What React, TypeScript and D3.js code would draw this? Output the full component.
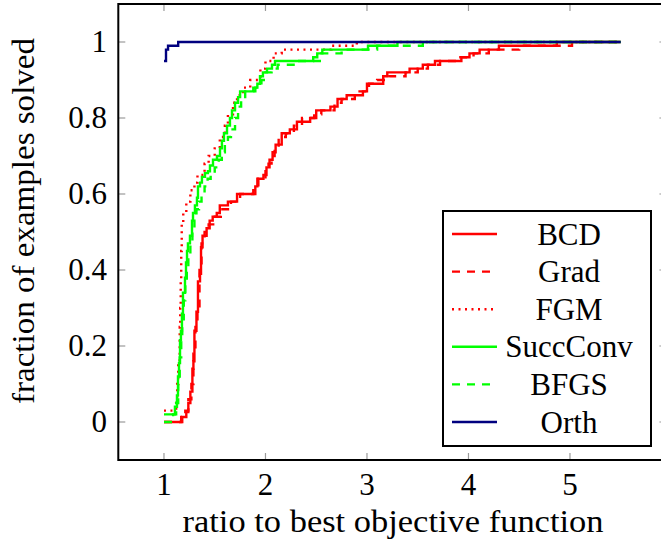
import React from 'react';
import * as d3 from 'd3';

// step-after breakpoints: [ratio, fraction solved]
const bcd: [number, number][] = [
  [1, 0], [1.18, 0.013], [1.22, 0.026], [1.24, 0.05], [1.26, 0.08], [1.28, 0.14], [1.29, 0.16],
  [1.3, 0.24], [1.32, 0.29], [1.335, 0.37], [1.355, 0.39], [1.365, 0.46], [1.38, 0.49],
  [1.42, 0.51], [1.45, 0.53], [1.48, 0.54], [1.52, 0.55], [1.55, 0.57], [1.63, 0.58],
  [1.72, 0.6], [1.9, 0.62], [1.92, 0.64], [1.98, 0.65], [2.01, 0.67], [2.04, 0.69],
  [2.07, 0.71], [2.1, 0.73], [2.16, 0.76], [2.24, 0.77], [2.31, 0.79], [2.44, 0.8],
  [2.5, 0.82], [2.64, 0.83], [2.71, 0.85], [2.8, 0.86], [2.96, 0.87], [3.0, 0.89],
  [3.16, 0.91], [3.2, 0.92], [3.42, 0.93], [3.55, 0.94], [3.67, 0.95], [3.93, 0.96],
  [4.01, 0.97], [4.11, 0.98], [4.3, 0.99], [4.87, 1], [5.5, 1],
];
const grad: [number, number][] = [
  [1, 0], [1.17, 0.013], [1.21, 0.03], [1.24, 0.06], [1.27, 0.1], [1.29, 0.18], [1.31, 0.25],
  [1.33, 0.3], [1.35, 0.4], [1.37, 0.47], [1.4, 0.5], [1.44, 0.52], [1.5, 0.54], [1.56, 0.56],
  [1.66, 0.58], [1.75, 0.6], [1.88, 0.61], [1.93, 0.64], [2.0, 0.66], [2.03, 0.68],
  [2.06, 0.7], [2.09, 0.72], [2.13, 0.75], [2.2, 0.76], [2.28, 0.78], [2.36, 0.8],
  [2.48, 0.81], [2.55, 0.82], [2.68, 0.84], [2.75, 0.85], [2.88, 0.87], [3.02, 0.89],
  [3.1, 0.9], [3.22, 0.91], [3.38, 0.92], [3.5, 0.93], [3.6, 0.94], [3.72, 0.95],
  [3.9, 0.96], [4.05, 0.97], [4.2, 0.98], [4.5, 0.99], [5.02, 1], [5.5, 1],
];
const fgm: [number, number][] = [
  [1, 0.03], [1.12, 0.05], [1.13, 0.1], [1.14, 0.16], [1.155, 0.25], [1.16, 0.3],
  [1.165, 0.37], [1.17, 0.45], [1.175, 0.52], [1.19, 0.55], [1.22, 0.58], [1.26, 0.61],
  [1.3, 0.63], [1.33, 0.65], [1.4, 0.68], [1.44, 0.7], [1.5, 0.72], [1.55, 0.75],
  [1.6, 0.78], [1.63, 0.81], [1.68, 0.84], [1.72, 0.86], [1.78, 0.88], [1.85, 0.9],
  [1.95, 0.93], [2.0, 0.95], [2.08, 0.97], [2.16, 0.98], [2.65, 0.99], [2.9, 1], [5.5, 1],
];
const succConv: [number, number][] = [
  [1, 0.02], [1.108, 0.04], [1.128, 0.07], [1.138, 0.12], [1.148, 0.155], [1.158, 0.215],
  [1.167, 0.24], [1.177, 0.285], [1.187, 0.34], [1.207, 0.38], [1.217, 0.42], [1.227, 0.45],
  [1.236, 0.47], [1.256, 0.49], [1.276, 0.53], [1.286, 0.55], [1.305, 0.57], [1.325, 0.59],
  [1.335, 0.62], [1.355, 0.63], [1.374, 0.645], [1.404, 0.655], [1.433, 0.66], [1.453, 0.675],
  [1.483, 0.69], [1.522, 0.7], [1.552, 0.72], [1.571, 0.74], [1.591, 0.76], [1.621, 0.78],
  [1.65, 0.8], [1.67, 0.82], [1.7, 0.84], [1.73, 0.855], [1.75, 0.87], [1.88, 0.88],
  [1.92, 0.89], [1.946, 0.91], [1.975, 0.92], [2.015, 0.93], [2.064, 0.94], [2.094, 0.95],
  [2.47, 0.96], [2.51, 0.97], [2.56, 0.98], [3.01, 0.99], [3.3, 1], [5.5, 1],
];
const bfgs: [number, number][] = [
  [1, 0], [1.09, 0.02], [1.12, 0.05], [1.14, 0.1], [1.155, 0.17], [1.17, 0.22], [1.18, 0.27],
  [1.195, 0.32], [1.21, 0.36], [1.225, 0.4], [1.24, 0.44], [1.26, 0.47], [1.28, 0.5],
  [1.3, 0.53], [1.32, 0.56], [1.345, 0.58], [1.37, 0.6], [1.4, 0.62], [1.43, 0.64],
  [1.46, 0.65], [1.5, 0.67], [1.54, 0.69], [1.57, 0.71], [1.6, 0.73], [1.63, 0.75],
  [1.66, 0.77], [1.7, 0.8], [1.73, 0.83], [1.76, 0.85], [1.8, 0.87], [1.9, 0.88],
  [1.96, 0.9], [2.0, 0.92], [2.06, 0.93], [2.12, 0.94], [2.3, 0.95], [2.55, 0.97],
  [2.75, 0.98], [3.1, 0.99], [3.55, 1], [5.5, 1],
];
const orth: [number, number][] = [[1, 0.95], [1.02, 0.98], [1.04, 0.99], [1.14, 1], [5.5, 1]];

const seriesNames = ['BCD', 'Grad', 'FGM', 'SuccConv', 'BFGS', 'Orth'];
const seriesData = [bcd, grad, fgm, succConv, bfgs, orth];
const xTicks = [1, 2, 3, 4, 5];
const yTicks = [0, 0.2, 0.4, 0.6, 0.8, 1];

const styles = [
  { color: '#ff0000', dash: '' },
  { color: '#ff0000', dash: '8,7' },
  { color: '#ff0000', dash: '2,4.5' },
  { color: '#00ff00', dash: '' },
  { color: '#00ff00', dash: '8,7' },
  { color: '#00007f', dash: '' },
];

const W = 661;
const H = 539;

export default function App() {
  const x = d3.scaleLinear().domain([0.55, 5.95]).range([118.3, 666.4]);
  const y = d3.scaleLinear().domain([-0.1, 1.1]).range([460, 4]);
  const [x0, x1] = x.range();
  const [y0, y1] = y.range();

  const line = d3.line<[number, number]>()
    .x(d => x(d[0]))
    .y(d => y(d[1]))
    .curve(d3.curveStepAfter);

  // legend geometry
  const lg = { left: 443, top: 211, right: 651, bottom: 446, row0: 234, step: 37.6 };
  const txt = { fontFamily: "'Liberation Serif'", fontSize: '31px' };

  return (
    <svg width={W} height={H} style={{ position: 'absolute', left: 0, top: 0, background: '#fff' }}>
      <rect x={0} y={0} width={W} height={H} fill="#fff" />
      <defs>
        <clipPath id="plot">
          <rect x={x0} y={y1} width={x1 - x0} height={y0 - y1} />
        </clipPath>
      </defs>

      {/* ticks on all four sides */}
      {xTicks.map(t => (
        <g key={'xt' + t} stroke="#9a9a9a" strokeWidth={1.2}>
          <line x1={x(t)} x2={x(t)} y1={y0} y2={y0 - 7} />
          <line x1={x(t)} x2={x(t)} y1={y1} y2={y1 + 7} />
        </g>
      ))}
      {yTicks.map(t => (
        <g key={'yt' + t} stroke="#9a9a9a" strokeWidth={1.2}>
          <line x1={x0} x2={x0 + 7} y1={y(t)} y2={y(t)} />
          <line x1={x1} x2={x1 - 7} y1={y(t)} y2={y(t)} />
        </g>
      ))}

      <g clipPath="url(#plot)">
        {seriesData.map((d, i) => (
          <path key={seriesNames[i]} d={line(d) || ''} fill="none" stroke={styles[i].color}
            strokeWidth={2.4} strokeDasharray={styles[i].dash} />
        ))}
      </g>

      <rect x={x0} y={y1} width={x1 - x0} height={y0 - y1} fill="none" stroke="#000" strokeWidth={2} />

      {xTicks.map(t => (
        <text key={'xl' + t} x={x(t)} y={495} textAnchor="middle" style={txt}>{t}</text>
      ))}
      {yTicks.map(t => (
        <text key={'yl' + t} x={107} y={y(t) + 10} textAnchor="end" style={txt}>{t}</text>
      ))}

      <text x={393} y={532} textAnchor="middle" style={txt} textLength={421}
        lengthAdjust="spacingAndGlyphs">ratio to best objective function</text>
      <text transform="translate(34,221) rotate(-90)" textAnchor="middle" style={txt}
        textLength={366} lengthAdjust="spacingAndGlyphs">
        fraction of examples solved
      </text>

      {/* legend */}
      <rect x={lg.left} y={lg.top} width={lg.right - lg.left} height={lg.bottom - lg.top}
        fill="#fff" stroke="#000" strokeWidth={2} />
      {seriesNames.map((name, i) => {
        const cy = lg.row0 + i * lg.step;
        return (
          <g key={'lg' + name}>
            <line x1={452} x2={497} y1={cy} y2={cy} stroke={styles[i].color} strokeWidth={2.4}
              strokeDasharray={styles[i].dash} />
            <text x={569} y={cy + 10.5} textAnchor="middle" style={txt}>{name}</text>
          </g>
        );
      })}
    </svg>
  );
}
